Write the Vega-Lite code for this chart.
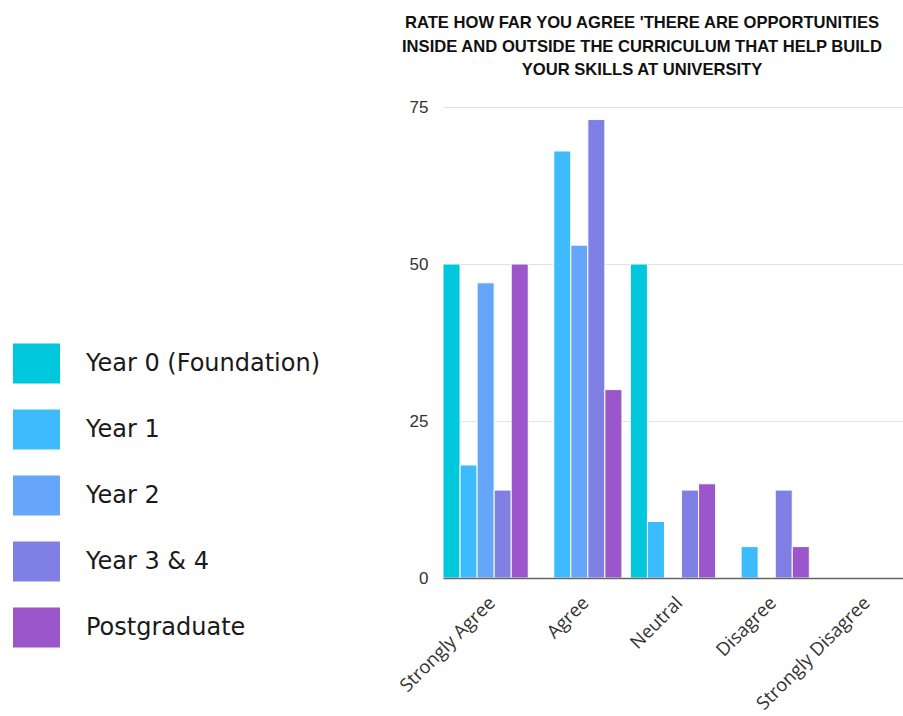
{
  "$schema": "https://vega.github.io/schema/vega-lite/v6.json",
  "autosize": {"type": "none"},
  "padding": {"left": 443, "top": 107, "right": 0, "bottom": 138},
  "width": 460,
  "height": 471,
  "background": "white",
  "title": {
    "text": ["RATE HOW FAR YOU AGREE 'THERE ARE OPPORTUNITIES", "INSIDE AND OUTSIDE THE CURRICULUM THAT HELP BUILD", "YOUR SKILLS AT UNIVERSITY"],
    "font": "Liberation Sans",
    "fontSize": 16.6,
    "fontWeight": "bold",
    "color": "#111111",
    "lineHeight": 23.5,
    "anchor": "middle",
    "dx": -31,
    "offset": 19
  },
  "data": {
    "values": [
      {"response": "Strongly Agree", "group": "Year 0 (Foundation)", "value": 50},
      {"response": "Strongly Agree", "group": "Year 1", "value": 18},
      {"response": "Strongly Agree", "group": "Year 2", "value": 47},
      {"response": "Strongly Agree", "group": "Year 3 & 4", "value": 14},
      {"response": "Strongly Agree", "group": "Postgraduate", "value": 50},
      {"response": "Agree", "group": "Year 0 (Foundation)", "value": 0},
      {"response": "Agree", "group": "Year 1", "value": 68},
      {"response": "Agree", "group": "Year 2", "value": 53},
      {"response": "Agree", "group": "Year 3 & 4", "value": 73},
      {"response": "Agree", "group": "Postgraduate", "value": 30},
      {"response": "Neutral", "group": "Year 0 (Foundation)", "value": 50},
      {"response": "Neutral", "group": "Year 1", "value": 9},
      {"response": "Neutral", "group": "Year 2", "value": 0},
      {"response": "Neutral", "group": "Year 3 & 4", "value": 14},
      {"response": "Neutral", "group": "Postgraduate", "value": 15},
      {"response": "Disagree", "group": "Year 0 (Foundation)", "value": 0},
      {"response": "Disagree", "group": "Year 1", "value": 5},
      {"response": "Disagree", "group": "Year 2", "value": 0},
      {"response": "Disagree", "group": "Year 3 & 4", "value": 14},
      {"response": "Disagree", "group": "Postgraduate", "value": 5},
      {"response": "Strongly Disagree", "group": "Year 0 (Foundation)", "value": 0},
      {"response": "Strongly Disagree", "group": "Year 1", "value": 0},
      {"response": "Strongly Disagree", "group": "Year 2", "value": 0},
      {"response": "Strongly Disagree", "group": "Year 3 & 4", "value": 0},
      {"response": "Strongly Disagree", "group": "Postgraduate", "value": 0}
    ]
  },
  "transform": [{"filter": "datum.value > 0"}],
  "mark": {"type": "bar", "stroke": "white", "strokeWidth": 1},
  "encoding": {
    "x": {
      "field": "response",
      "type": "nominal",
      "sort": ["Strongly Agree", "Agree", "Neutral", "Disagree", "Strongly Disagree"],
      "scale": {"domain": ["Strongly Agree", "Agree", "Neutral", "Disagree", "Strongly Disagree"], "paddingInner": 0.09, "paddingOuter": 0},
      "axis": {
        "title": null,
        "labelAngle": -45,
        "labelFont": "Open Sans",
        "labelFontSize": 18.5,
        "labelColor": "#333333",
        "labelPadding": 15,
        "ticks": false,
        "domainColor": "#666666",
        "domainWidth": 1.5,
        "zindex": 1
      }
    },
    "xOffset": {
      "field": "group",
      "type": "nominal",
      "sort": ["Year 0 (Foundation)", "Year 1", "Year 2", "Year 3 & 4", "Postgraduate"],
      "scale": {"domain": ["Year 0 (Foundation)", "Year 1", "Year 2", "Year 3 & 4", "Postgraduate"], "paddingInner": 0, "paddingOuter": 0}
    },
    "y": {
      "field": "value",
      "type": "quantitative",
      "scale": {"domain": [0, 75], "nice": false},
      "axis": {
        "title": null,
        "values": [0, 25, 50, 75],
        "domain": false,
        "ticks": false,
        "labelFont": "Liberation Sans",
        "labelFontSize": 17,
        "labelColor": "#333333",
        "labelPadding": 15,
        "gridColor": "#e2e2e2",
        "gridWidth": 1
      }
    },
    "color": {
      "field": "group",
      "type": "nominal",
      "sort": ["Year 0 (Foundation)", "Year 1", "Year 2", "Year 3 & 4", "Postgraduate"],
      "scale": {
        "domain": ["Year 0 (Foundation)", "Year 1", "Year 2", "Year 3 & 4", "Postgraduate"],
        "range": ["#00C8DC", "#3DBBFF", "#65A5FA", "#7F7FE4", "#9A56CA"]
      },
      "legend": {
        "title": null,
        "orient": "none",
        "legendX": -430,
        "legendY": 233,
        "padding": 0,
        "symbolType": "M-1,-0.851H1V0.851H-1Z",
        "symbolSize": 2209,
        "symbolStrokeWidth": 0,
        "symbolOpacity": 1,
        "labelFont": "DejaVu Sans",
        "labelFontSize": 24,
        "labelColor": "#1a1a1a",
        "labelOffset": 26,
        "rowPadding": 22,
        "labelLimit": 400
      }
    }
  },
  "config": {"view": {"stroke": null}}
}
